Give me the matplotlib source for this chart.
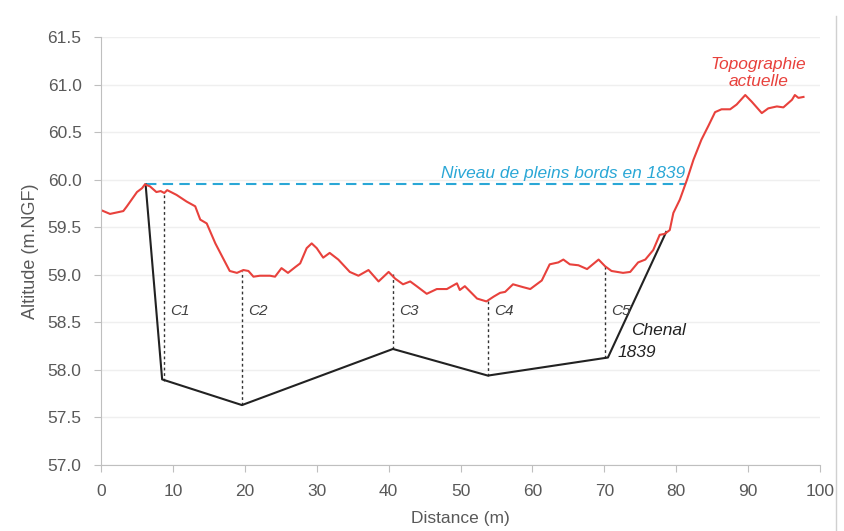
import matplotlib.pyplot as plt
from matplotlib.lines import Line2D

plt.rcParams['font.family'] = ['Liberation Sans', 'DejaVu Sans']

# present-day topography (red)
topo_x = [0, 1.25, 3.1, 3.6, 5.0, 5.7, 6.1, 6.8, 7.7, 8.3, 8.8, 9.2, 10.5, 11.9, 13.1, 13.8,
          14.7, 15.9, 17.0, 17.9, 18.9, 19.8, 20.5, 21.2, 22.1, 23.5, 24.2, 25.1, 26.0, 27.0,
          27.7, 28.6, 29.3, 30.0, 30.9, 31.8, 33.0, 34.6, 35.8, 37.2, 38.6, 40.0, 40.9, 42.0,
          43.0, 43.9, 45.3, 46.7, 48.1, 49.5, 49.9, 50.6, 52.3, 53.6, 54.6, 55.5, 56.2, 57.3,
          58.7, 59.7, 61.3, 62.4, 63.6, 64.3, 65.2, 66.4, 67.6, 69.2, 70.1, 71.0, 72.6, 73.6,
          74.7, 75.7, 76.8, 77.7, 78.4, 79.1, 79.6, 80.5, 81.5, 82.4, 83.5, 84.5, 85.4, 86.3,
          87.5, 88.4, 89.6, 90.5, 91.9, 92.8, 94.0, 94.9, 96.1, 96.5, 97.0, 97.7]
topo_y = [59.68, 59.64, 59.67, 59.72, 59.87, 59.91, 59.95, 59.93, 59.87, 59.88, 59.86, 59.89,
          59.84, 59.77, 59.72, 59.58, 59.54, 59.33, 59.17, 59.04, 59.02, 59.05, 59.04, 58.98,
          58.99, 58.99, 58.98, 59.07, 59.02, 59.08, 59.12, 59.28, 59.33, 59.28, 59.18, 59.23,
          59.16, 59.03, 58.99, 59.05, 58.93, 59.03, 58.96, 58.90, 58.93, 58.88, 58.80, 58.85,
          58.85, 58.91, 58.84, 58.88, 58.75, 58.72, 58.77, 58.81, 58.82, 58.90, 58.87, 58.85,
          58.94, 59.11, 59.13, 59.16, 59.11, 59.10, 59.06, 59.16, 59.09, 59.04, 59.02, 59.03,
          59.13, 59.16, 59.26, 59.42, 59.43, 59.47, 59.65, 59.79, 60.00, 60.21, 60.42, 60.57,
          60.71, 60.74, 60.74, 60.79, 60.89, 60.82, 60.70, 60.75, 60.77, 60.76, 60.84, 60.89,
          60.86, 60.87]

# 1839 channel (black)
chenal_x = [6.2, 8.5, 19.6, 40.6, 53.8, 70.5, 78.6]
chenal_y = [59.95, 57.90, 57.63, 58.22, 57.94, 58.13, 59.45]

# cross-section markers C1..C5
sect_names = ['C1', 'C2', 'C3', 'C4', 'C5']
sect_x = [8.7, 19.6, 40.6, 53.8, 70.1]
sect_top = [59.86, 59.04, 59.03, 58.72, 59.09]
sect_bot = [57.88, 57.63, 58.22, 57.94, 58.12]

bankfull_level = 59.95
bankfull_x = [6.2, 81.4]

fig = plt.figure(figsize=(8.44, 5.31), dpi=100)
ax = fig.add_axes([0.1197, 0.1243, 0.8519, 0.806])

grey = '#bfbfbf'
txt = '#595959'

ax.set_xlim(0, 100)
ax.set_ylim(57.0, 61.5)
ax.set_xticks(range(0, 101, 10))
ax.set_yticks([57.0 + 0.5 * i for i in range(10)])
ax.set_yticklabels([f"{57.0 + 0.5 * i:.1f}" for i in range(10)])
ax.grid(axis='y', color='#efefef', lw=1)
ax.set_axisbelow(True)
for s in ['top', 'right']:
    ax.spines[s].set_visible(False)
for s in ['left', 'bottom']:
    ax.spines[s].set_color(grey)
ax.tick_params(colors=grey, labelcolor=txt, labelsize=12.5, length=5, direction='out')
ax.tick_params(axis='y', pad=9)
ax.tick_params(axis='x', pad=9)

ax.plot(bankfull_x, [bankfull_level] * 2, color='#2aa7d6', lw=1.5, ls=(0, (5, 3)))
for name, x, t, b in zip(sect_names, sect_x, sect_top, sect_bot):
    ax.plot([x, x], [b, t], color='#333333', lw=1, ls=(0, (2, 2)))
    ax.text(x + 0.9, 58.62, name, fontsize=11, style='italic', color='#404040', va='center')
ax.plot(chenal_x, chenal_y, color='#222222', lw=1.5)
ax.plot(topo_x, topo_y, color='#e8413c', lw=1.5)

ax.text(81.2, 60.07, 'Niveau de pleins bords en 1839', color='#2aa7d6', fontsize=12.5,
        style='italic', ha='right', va='center')
ax.text(91.4, 61.12, 'Topographie\nactuelle', color='#e8413c', fontsize=12.5, style='italic',
        ha='center', va='center', linespacing=1.15)
ax.text(73.7, 58.41, 'Chenal', color='#222222', fontsize=12.5, style='italic', va='center')
ax.text(71.9, 58.18, '1839', color='#222222', fontsize=12.5, style='italic', va='center')

ax.set_xlabel('Distance (m)', color=txt, fontsize=12.5, labelpad=8)
ax.set_ylabel('Altitude (m.NGF)', color=txt, fontsize=13, labelpad=6)

# thin frame edge on the right of the original image
fig.add_artist(Line2D([0.99, 0.99], [0.0, 0.97], transform=fig.transFigure,
                      color='#d0d0d0', lw=1))

plt.savefig('out.png', dpi=100)
